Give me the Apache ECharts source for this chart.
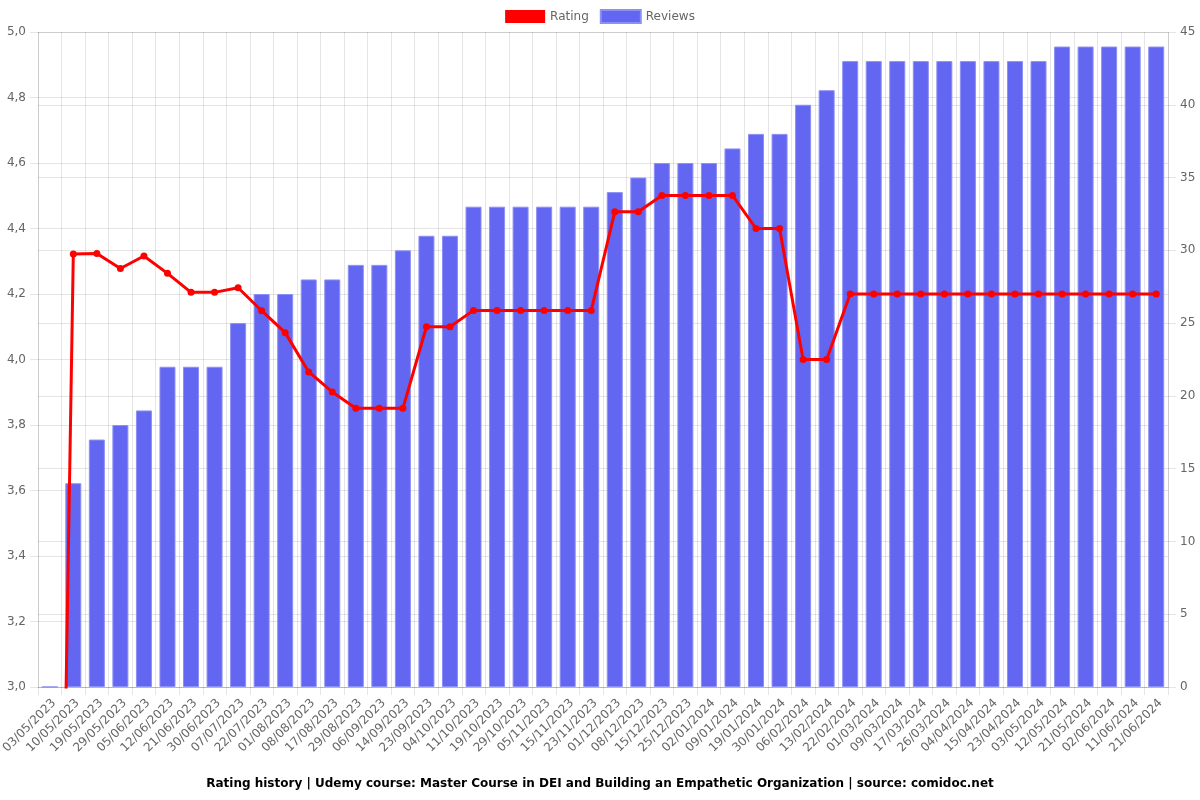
<!DOCTYPE html>
<html>
<head>
<meta charset="utf-8">
<script src="https://cdn.jsdelivr.net/npm/echarts@6/dist/echarts.min.js"></script>
<style>
  html, body { margin: 0; padding: 0; background: #ffffff; }
  #chart { width: 1200px; height: 800px; }
</style>
</head>
<body>
<div id="chart"></div>
<script>
const categories = [
  '03/05/2023','10/05/2023','19/05/2023','29/05/2023','05/06/2023','12/06/2023','21/06/2023','30/06/2023',
  '07/07/2023','22/07/2023','01/08/2023','08/08/2023','17/08/2023','29/08/2023','06/09/2023','14/09/2023',
  '23/09/2023','04/10/2023','11/10/2023','19/10/2023','29/10/2023','05/11/2023','15/11/2023','23/11/2023',
  '01/12/2023','08/12/2023','15/12/2023','25/12/2023','02/01/2024','09/01/2024','19/01/2024','30/01/2024',
  '06/02/2024','13/02/2024','22/02/2024','01/03/2024','09/03/2024','17/03/2024','26/03/2024','04/04/2024',
  '15/04/2024','23/04/2024','03/05/2024','12/05/2024','21/05/2024','02/06/2024','11/06/2024','21/06/2024'
];
const ratingValues = [
  0, 4.322, 4.324, 4.278, 4.316, 4.263, 4.205, 4.205,
  4.219, 4.149, 4.082, 3.962, 3.901, 3.851, 3.851, 3.851,
  4.100, 4.100, 4.150, 4.150, 4.150, 4.150, 4.150, 4.150,
  4.451, 4.451, 4.501, 4.501, 4.501, 4.501, 4.400, 4.400,
  4.000, 4.000, 4.200, 4.200, 4.200, 4.200, 4.200, 4.200,
  4.200, 4.200, 4.200, 4.200, 4.200, 4.200, 4.200, 4.200
];
const reviewValues = [
  0, 14, 17, 18, 19, 22, 22, 22,
  25, 27, 27, 28, 28, 29, 29, 30,
  31, 31, 33, 33, 33, 33, 33, 33,
  34, 35, 36, 36, 36, 37, 38, 38,
  40, 41, 43, 43, 43, 43, 43, 43,
  43, 43, 43, 44, 44, 44, 44, 44
];
const titleText = 'Rating history | Udemy course: Master Course in DEI and Building an Empathetic Organization | source: comidoc.net';

const FONT = 'DejaVu Sans';
const gridColor = 'rgba(0,0,0,0.1)';
const labelColor = '#666666';

const chart = echarts.init(document.getElementById('chart'), null, { renderer: 'canvas' });
chart.setOption({
  animation: false,
  backgroundColor: '#ffffff',
  textStyle: { fontFamily: FONT },
  title: {
    text: titleText,
    left: 'center',
    bottom: 5,
    textStyle: { fontFamily: FONT, fontSize: 12, fontWeight: 'bold', color: '#000000' }
  },
  legend: {
    top: 4,
    left: 'center',
    itemWidth: 40,
    itemHeight: 13,
    itemGap: 11,
    textStyle: { fontFamily: FONT, fontSize: 12, color: labelColor },
    data: [
      { name: 'Rating', icon: 'rect', itemStyle: { color: '#ff0000' } },
      { name: 'Reviews', icon: 'rect', itemStyle: { color: '#6366f1' } }
    ]
  },
  grid: { left: 38, right: 32, top: 32, bottom: 113, containLabel: false, outerBoundsMode: 'none' },
  xAxis: {
    type: 'category',
    data: categories,
    boundaryGap: true,
    axisLine: { show: true, lineStyle: { color: gridColor } },
    axisTick: { show: true, interval: 0, length: 8, lineStyle: { color: gridColor } },
    splitLine: { show: true, interval: 0, lineStyle: { color: gridColor } },
    axisLabel: { interval: 0, rotate: 45, margin: 10, verticalAlign: 'top', fontFamily: FONT, fontSize: 12, color: labelColor }
  },
  yAxis: [
    {
      type: 'value',
      min: 3.0,
      max: 5.0,
      interval: 0.2,
      position: 'left',
      axisLine: { show: true, lineStyle: { color: gridColor } },
      axisTick: { show: true, length: 8, lineStyle: { color: gridColor } },
      splitLine: { show: true, lineStyle: { color: gridColor } },
      axisLabel: {
        margin: 12, fontFamily: FONT, fontSize: 12, color: labelColor,
        formatter: v => v.toFixed(1).replace('.', ',')
      }
    },
    {
      type: 'value',
      min: 0,
      max: 45,
      interval: 5,
      position: 'right',
      axisLine: { show: true, lineStyle: { color: gridColor } },
      axisTick: { show: true, length: 8, lineStyle: { color: gridColor } },
      splitLine: { show: true, lineStyle: { color: gridColor } },
      axisLabel: { margin: 12, fontFamily: FONT, fontSize: 12, color: labelColor }
    }
  ],
  series: [
    {
      name: 'Rating',
      type: 'line',
      yAxisIndex: 0,
      data: ratingValues,
      clip: true,
      z: 10,
      symbol: 'circle',
      symbolSize: 7,
      showAllSymbol: true,
      lineStyle: { color: '#ff0000', width: 3 },
      itemStyle: { color: '#ff0000' }
    },
    {
      name: 'Reviews',
      type: 'bar',
      yAxisIndex: 1,
      data: reviewValues,
      barWidth: 16,
      z: 2,
      itemStyle: { color: '#6366f1', borderColor: '#8c8ff5', borderWidth: 1 }
    }
  ]
});
</script>
</body>
</html>
